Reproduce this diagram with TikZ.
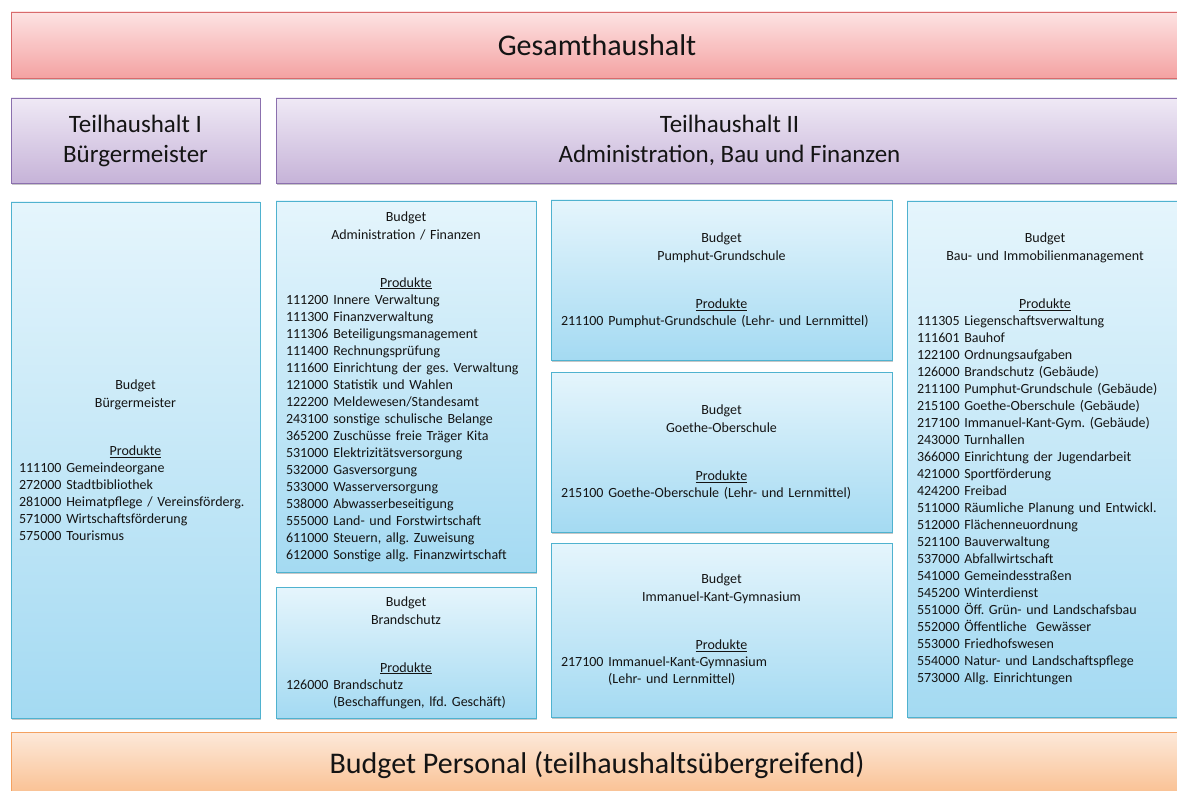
\documentclass[tikz,border=0pt]{standalone}
\usepackage{fontspec}
\setmainfont{Carlito}
\usetikzlibrary{shadows}
\setlength{\parindent}{0pt}
\frenchspacing
\definecolor{txt}{HTML}{141414}
\definecolor{bluetop}{HTML}{E5F5FC}
\definecolor{bluebot}{HTML}{A4DAF2}
\definecolor{bluebd}{HTML}{4FB2CF}
\definecolor{redtop}{HTML}{FDE3E3}
\definecolor{redbot}{HTML}{F4A2A2}
\definecolor{redbd}{HTML}{D86A6C}
\definecolor{purtop}{HTML}{EFE9F5}
\definecolor{purbot}{HTML}{C6B3D8}
\definecolor{purbd}{HTML}{8B70AE}
\definecolor{ortop}{HTML}{FDE9DA}
\definecolor{orbot}{HTML}{F9BE8E}
\definecolor{orbd}{HTML}{F4A160}
\newcommand{\prodhead}[1]{{\centering Budget\\[1pt]#1\par}\vspace{31pt}{\centering\underline{Produkte}\par}}
\newcommand{\cont}{\phantom{000000}\ }
\tikzset{
  shad/.style={drop shadow={shadow xshift=0.8pt, shadow yshift=-2pt, opacity=0.4, fill=black!55}},
  bluebox/.style={shad, draw=bluebd, line width=0.8pt, top color=bluetop, bottom color=bluebot,
    inner xsep=10pt, inner ysep=0pt, align=left, text=txt, font=\fontsize{14}{17}\selectfont},
  bigbox/.style={shad, line width=0.8pt, inner sep=0pt, align=center, text=txt,
    minimum width=1172pt, minimum height=66pt, font=\fontsize{30}{36}\selectfont},
  redbox/.style={bigbox, draw=redbd, top color=redtop, bottom color=redbot},
  orbox/.style={bigbox, draw=orbd, top color=ortop, bottom color=orbot},
  purbox/.style={shad, draw=purbd, line width=0.8pt, top color=purtop, bottom color=purbot,
    inner sep=0pt, align=center, text=txt, minimum height=85pt, font=\fontsize{25}{30}\selectfont}
}
\begin{document}
\begin{tikzpicture}[x=1pt,y=-1pt]
\useasboundingbox (0,0) rectangle (1177,791);

\node[redbox] (gh) at (597,45) {Gesamthaushalt};
\node[purbox, minimum width=249pt] (th1) at (135.5,140.5) {Teilhaushalt I\\Bürgermeister};
\node[purbox, minimum width=907pt] (th2) at (729.5,140.5) {Teilhaushalt II\\Administration, Bau und Finanzen};

\node[bluebox, inner xsep=8pt, text width=233pt, minimum width=249pt, minimum height=516pt] (bm) at (135.5,460) {%
\prodhead{Bürgermeister}
111100 Gemeindeorgane\\
272000 Stadtbibliothek\\
281000 Heimatpflege / Vereinsförderg.\\
571000 Wirtschaftsförderung\\
575000 Tourismus};

\node[bluebox, text width=240pt, minimum width=260pt, minimum height=371pt] (adm) at (406,386.5) {%
\prodhead{Administration / Finanzen}
111200 Innere Verwaltung\\
111300 Finanzverwaltung\\
111306 Beteiligungsmanagement\\
111400 Rechnungsprüfung\\
111600 Einrichtung der ges. Verwaltung\\
121000 Statistik und Wahlen\\
122200 Meldewesen/Standesamt\\
243100 sonstige schulische Belange\\
365200 Zuschüsse freie Träger Kita\\
531000 Elektrizitätsversorgung\\
532000 Gasversorgung\\
533000 Wasserversorgung\\
538000 Abwasserbeseitigung\\
555000 Land- und Forstwirtschaft\\
611000 Steuern, allg. Zuweisung\\
612000 Sonstige allg. Finanzwirtschaft};

\node[bluebox, text width=240pt, minimum width=260pt, minimum height=131pt] (brand) at (406,652.5) {%
\prodhead{Brandschutz}
126000 Brandschutz\\
\cont(Beschaffungen, lfd. Geschäft)};

\node[bluebox, text width=321pt, minimum width=341pt, minimum height=160pt] (pump) at (721.5,280) {%
\prodhead{Pumphut-Grundschule}
211100 Pumphut-Grundschule (Lehr- und Lernmittel)};

\node[bluebox, text width=321pt, minimum width=341pt, minimum height=160pt] (goe) at (721.5,452) {%
\prodhead{Goethe-Oberschule}
215100 Goethe-Oberschule (Lehr- und Lernmittel)};

\node[bluebox, text width=321pt, minimum width=341pt, minimum height=174pt] (kant) at (721.5,630) {%
\prodhead{Immanuel-Kant-Gymnasium}
217100 Immanuel-Kant-Gymnasium\\
\cont(Lehr- und Lernmittel)};

\node[bluebox, text width=256pt, minimum width=276pt, minimum height=516pt] (bau) at (1045,459) {%
\prodhead{Bau- und Immobilienmanagement}
111305 Liegenschaftsverwaltung\\
111601 Bauhof\\
122100 Ordnungsaufgaben\\
126000 Brandschutz (Gebäude)\\
211100 Pumphut-Grundschule (Gebäude)\\
215100 Goethe-Oberschule (Gebäude)\\
217100 Immanuel-Kant-Gym. (Gebäude)\\
243000 Turnhallen\\
366000 Einrichtung der Jugendarbeit\\
421000 Sportförderung\\
424200 Freibad\\
511000 Räumliche Planung und Entwickl.\\
512000 Flächenneuordnung\\
521100 Bauverwaltung\\
537000 Abfallwirtschaft\\
541000 Gemeindesstraßen\\
545200 Winterdienst\\
551000 Öff. Grün- und Landschafsbau\\
552000 Öffentliche\ \ Gewässer\\
553000 Friedhofswesen\\
554000 Natur- und Landschaftspflege\\
573000 Allg. Einrichtungen};

\node[orbox] (pers) at (597,765) {Budget Personal (teilhaushaltsübergreifend)};
\end{tikzpicture}
\end{document}
